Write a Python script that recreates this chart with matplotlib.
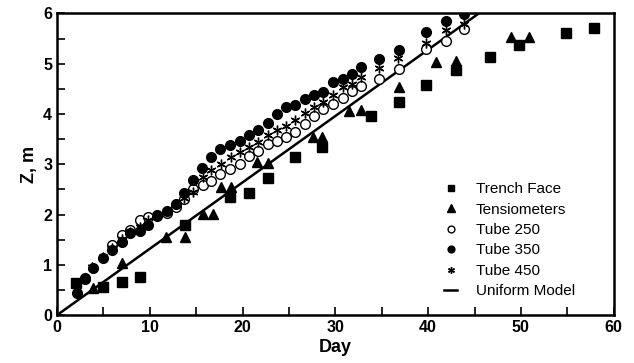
import numpy as np
import matplotlib
matplotlib.use("Agg")
import matplotlib.pyplot as plt
from matplotlib.ticker import MultipleLocator

plt.rcParams['font.family'] = ['Liberation Sans', 'DejaVu Sans']

# Trench face (squares)
trench_day = [2.0, 5.0, 6.95, 8.9, 13.8, 18.6, 20.7, 22.7, 25.7, 28.6,
              33.8, 36.9, 39.75, 43.0, 46.7, 49.8, 54.9, 57.85]
trench_z = [0.64, 0.55, 0.66, 0.76, 1.79, 2.35, 2.42, 2.72, 3.14, 3.35,
            3.95, 4.24, 4.58, 4.88, 5.13, 5.37, 5.61, 5.71]

# Tensiometers (triangles)
tens_day = [3.9, 6.95, 11.7, 13.8, 15.7, 16.8, 17.7, 18.8, 21.6, 22.7,
            27.6, 28.6, 31.5, 32.8, 36.9, 40.8, 43.0, 48.9, 50.9]
tens_z = [0.53, 1.03, 1.55, 1.55, 2.02, 2.02, 2.55, 2.55, 3.05, 3.02,
          3.55, 3.55, 4.05, 4.08, 4.54, 5.04, 5.05, 5.54, 5.54]

# Tube 250 (open circles)
t250_day = [3.0, 5.9, 6.95, 7.9, 8.9, 9.8, 10.8, 11.8, 12.8, 13.7, 14.7,
            15.7, 16.6, 17.6, 18.6, 19.7, 20.7, 21.7, 22.7, 23.7, 24.7,
            25.7, 26.7, 27.7, 28.7, 29.7, 30.8, 31.8, 32.8, 34.7, 36.9,
            39.8, 41.9, 43.9]
t250_z = [0.74, 1.39, 1.59, 1.69, 1.89, 1.96, 2.0, 2.03, 2.15, 2.3, 2.5,
          2.58, 2.67, 2.8, 2.9, 3.0, 3.17, 3.27, 3.4, 3.47, 3.55,
          3.65, 3.8, 3.95, 4.1, 4.2, 4.31, 4.46, 4.55, 4.69, 4.9,
          5.3, 5.45, 5.7]

# Tube 350 (filled circles)
t350_day = [2.1, 3.0, 3.9, 4.9, 5.9, 6.95, 7.9, 8.9, 9.8, 10.8, 11.8,
            12.8, 13.7, 14.6, 15.6, 16.6, 17.6, 18.6, 19.7, 20.7, 21.7,
            22.7, 23.7, 24.7, 25.7, 26.7, 27.7, 28.7, 29.7, 30.8, 31.8,
            32.8, 34.7, 36.9, 39.8, 41.9, 43.9]
t350_z = [0.44, 0.72, 0.93, 1.13, 1.29, 1.46, 1.63, 1.68, 1.8, 1.98, 2.08,
          2.2, 2.42, 2.69, 2.92, 3.14, 3.3, 3.38, 3.47, 3.58, 3.68,
          3.83, 3.99, 4.13, 4.18, 4.3, 4.38, 4.44, 4.64, 4.7, 4.8,
          4.93, 5.09, 5.27, 5.64, 5.84, 5.99]

# Tube 450 (asterisks)
t450_day = [3.8, 4.9, 5.9, 6.95, 7.9, 8.9, 9.8, 10.8, 11.8, 12.8, 13.7,
            14.7, 15.7, 16.6, 17.7, 18.7, 19.7, 20.7, 21.7, 22.7, 23.7,
            24.7, 25.7, 26.7, 27.7, 28.7, 29.7, 30.8, 31.8, 32.8, 34.7,
            36.8, 39.8, 41.9, 43.9]
t450_z = [0.96, 1.15, 1.33, 1.52, 1.66, 1.75, 1.9, 2.0, 2.08, 2.2, 2.32,
          2.45, 2.75, 2.89, 3.0, 3.14, 3.25, 3.35, 3.45, 3.58, 3.68,
          3.77, 3.89, 4.02, 4.13, 4.24, 4.38, 4.53, 4.6, 4.73, 4.91,
          5.11, 5.41, 5.67, 5.79]

# uniform model: z = rate * day
model_rate = 0.132
model_day = np.array([0, 60])

fig = plt.figure(figsize=(6.34, 3.63), dpi=100)
ax = fig.add_axes([0.09, 0.132, 0.878, 0.831])

ax.plot(model_day, model_rate * model_day, color="black", lw=1.8,
        label="Uniform Model", zorder=1)
ax.plot(trench_day, trench_z, "s", color="black", ms=6.5, label="Trench Face")
ax.plot(tens_day, tens_z, "^", color="black", ms=7.5, label="Tensiometers")
ax.plot(t250_day, t250_z, "o", mfc="white", mec="black", mew=1.0, ms=7,
        label="Tube 250")
ax.plot(t350_day, t350_z, "o", color="black", ms=7, label="Tube 350")
ax.plot(t450_day, t450_z, marker=(6, 2, 0), ls="none", color="black",
        ms=7, mew=1.0, label="Tube 450")

ax.set_xlim(0, 60)
ax.set_ylim(0, 6)
ax.xaxis.set_major_locator(MultipleLocator(10))
ax.xaxis.set_minor_locator(MultipleLocator(5))
ax.yaxis.set_major_locator(MultipleLocator(1))
ax.yaxis.set_minor_locator(MultipleLocator(0.5))
ax.tick_params(which="both", direction="in", width=1.2, labelsize=11.5)
ax.tick_params(which="major", length=6)
ax.tick_params(which="minor", length=6)
for lab in ax.get_xticklabels() + ax.get_yticklabels():
    lab.set_fontweight("bold")
for s in ax.spines.values():
    s.set_linewidth(1.8)

ax.set_xlabel("Day", fontsize=13, fontweight="bold", labelpad=3)
ax.set_ylabel("Z, m", fontsize=13, fontweight="bold", labelpad=4)

handles, labels = ax.get_legend_handles_labels()
order = [1, 2, 3, 4, 5, 0]
ax.legend([handles[i] for i in order], [labels[i] for i in order],
          loc="lower right", bbox_to_anchor=(0.955, 0.01), frameon=False,
          fontsize=11, markerscale=0.7, handlelength=0.9,
          handletextpad=1.2, labelspacing=0.42)

fig.savefig("out.png", dpi=100)
